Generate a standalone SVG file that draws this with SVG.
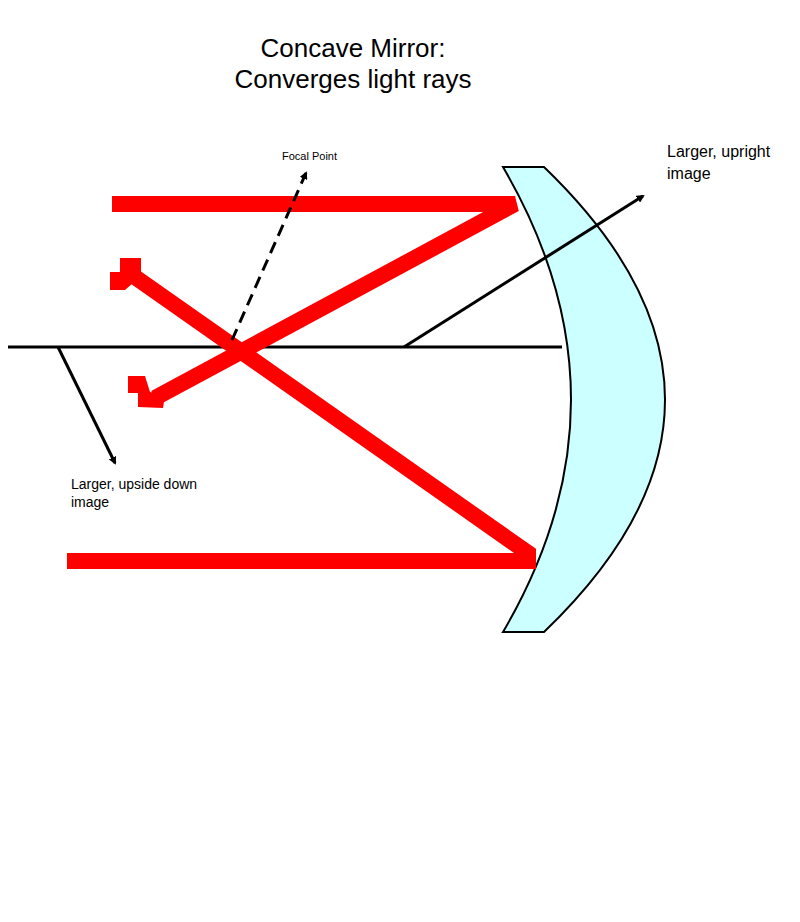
<svg xmlns="http://www.w3.org/2000/svg" width="800" height="922" viewBox="0 0 800 922">
<style>
text{font-family:"Liberation Sans",Arial,sans-serif;fill:#000}
.ray{stroke:#f00;stroke-width:16;fill:none}
.head{fill:#f00}
.ln{stroke:#000;stroke-width:3;fill:none}
</style>
<defs>
<marker id="ah" markerWidth="8" markerHeight="8" refX="6" refY="4" orient="auto" markerUnits="userSpaceOnUse"><path d="M0,0 L8,4 L0,8 Z" fill="#000"/></marker>
</defs>
<rect width="800" height="922" fill="#fff"/>
<g id="title"><text x="353" y="57" font-size="26" text-anchor="middle">Concave Mirror:</text><text x="353" y="88" font-size="26" text-anchor="middle">Converges light rays</text></g>
<g id="mirror"><path d="M503,167 L544,167 Q786,400 544,632 L503,632 Q639,400 503,167 Z" fill="#ccffff" stroke="#000" stroke-width="2"/></g>
<g id="connectors">
<line class="ln" x1="8" y1="347" x2="562" y2="347"/>
<path class="ray" d="M112,204 L515,204 L155,398"/>
<path class="ray" d="M67,561 L528,561 L528,553 L125,270"/>
<path class="head" d="M110,272 L120,272 L120,258 L141,258 L141,276 L125,290 L110,290 Z"/>
<path class="head" d="M128,376 L145,376 L150,392 L165,395 L163,408 L138,407 L138,393 L128,393 Z"/>
<line class="ln" x1="232" y1="340" x2="306" y2="173" stroke-dasharray="12,7" marker-end="url(#ah)"/>
<line class="ln" x1="404" y1="347" x2="643" y2="196" marker-end="url(#ah)"/>
<line class="ln" x1="58" y1="347" x2="115" y2="463" marker-end="url(#ah)"/>
</g>
<g id="labels">
<text x="282" y="160" font-size="11">Focal Point</text>
<text x="667" y="157" font-size="16">Larger, upright</text>
<text x="667" y="179" font-size="16">image</text>
<text x="71" y="489" font-size="14">Larger, upside down</text>
<text x="71" y="507" font-size="14">image</text>
</g>
</svg>
